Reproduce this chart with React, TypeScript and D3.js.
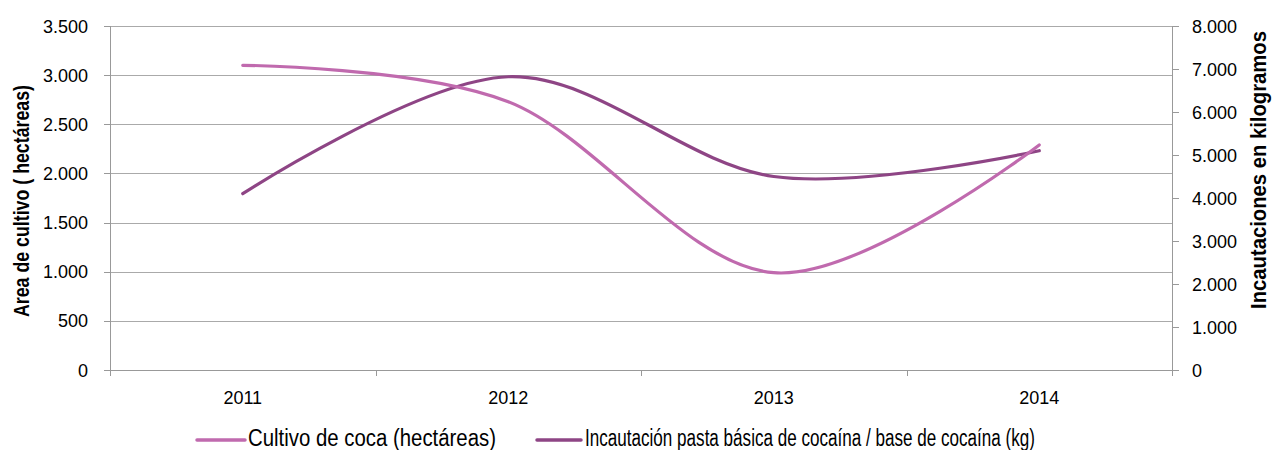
import React from "react";
import * as d3 from "d3";

const years = ["2011", "2012", "2013", "2014"];
const cultivoCoca = [3100, 2730, 990, 2290];
const incautacion = [4100, 6820, 4500, 5100];
const leftTicks = [0, 500, 1000, 1500, 2000, 2500, 3000, 3500];
const rightTicks = [0, 1000, 2000, 3000, 4000, 5000, 6000, 7000, 8000];
const seriesNames = [
  "Cultivo de coca (hectáreas)",
  "Incautación pasta básica de cocaína / base de cocaína (kg)",
];
const colors = ["#c06aae", "#8e4585"];

const W = 1273;
const H = 450;
const left = 110;
const right = 1172;
const top = 26;
const bottom = 370;

const fmt = (v: number) => d3.format(",")(v).replace(/,/g, ".");

export default function App() {
  const x = d3.scaleBand<string>().domain(years).range([left, right]);
  const yL = d3.scaleLinear().domain([0, 3500]).range([bottom, top]);
  const yR = d3.scaleLinear().domain([0, 8000]).range([bottom, top]);
  const cx = (d: string) => (x(d) as number) + x.bandwidth() / 2;

  const lineL = d3
    .line<number>()
    .x((_, i) => cx(years[i]))
    .y((d) => yL(d))
    .curve(d3.curveCardinal.tension(0));
  const lineR = d3
    .line<number>()
    .x((_, i) => cx(years[i]))
    .y((d) => yR(d))
    .curve(d3.curveCardinal.tension(0));

  const boundaries = [...years.map((y) => x(y) as number), right];
  const sans = "'Liberation Sans', Arial, sans-serif";

  return (
    <svg
      width={W}
      height={H}
      style={{ position: "absolute", left: 0, top: 0, background: "#fff" }}
    >
      {/* gridlines */}
      {leftTicks.slice(1).map((t) => (
        <line
          key={"g" + t}
          x1={left}
          x2={right}
          y1={Math.round(yL(t)) + 0.5}
          y2={Math.round(yL(t)) + 0.5}
          stroke="#aaaaaa"
          strokeWidth={1}
        />
      ))}
      {/* axes */}
      <line x1={left + 0.5} x2={left + 0.5} y1={top} y2={bottom} stroke="#999" />
      <line x1={right + 0.5} x2={right + 0.5} y1={top} y2={bottom} stroke="#999" />
      <line x1={left} x2={right + 1} y1={bottom + 0.5} y2={bottom + 0.5} stroke="#999" />
      {leftTicks.map((t) => (
        <g key={"l" + t}>
          <line
            x1={left - 6}
            x2={left}
            y1={Math.round(yL(t)) + 0.5}
            y2={Math.round(yL(t)) + 0.5}
            stroke="#999"
          />
          <text
            x={88}
            y={yL(t) + 6.5}
            textAnchor="end"
            fontFamily={sans}
            fontSize={18}
            fill="#000"
          >
            {fmt(t)}
          </text>
        </g>
      ))}
      {rightTicks.map((t) => (
        <g key={"r" + t}>
          <line
            x1={right}
            x2={right + 7}
            y1={Math.round(yR(t)) + 0.5}
            y2={Math.round(yR(t)) + 0.5}
            stroke="#999"
          />
          <text
            x={1192}
            y={yR(t) + 6.5}
            textAnchor="start"
            fontFamily={sans}
            fontSize={18}
            fill="#000"
          >
            {fmt(t)}
          </text>
        </g>
      ))}
      {boundaries.map((b, i) => (
        <line
          key={"b" + i}
          x1={Math.round(b) + 0.5}
          x2={Math.round(b) + 0.5}
          y1={bottom}
          y2={bottom + 6}
          stroke="#999"
        />
      ))}
      {years.map((y) => (
        <text
          key={y}
          x={cx(y)}
          y={404}
          textAnchor="middle"
          fontFamily={sans}
          fontSize={18}
          fill="#000"
        >
          {y}
        </text>
      ))}
      {/* axis titles */}
      <text
        transform={`translate(29,${(85 + 317) / 2}) rotate(-90)`}
        textAnchor="middle"
        fontFamily={sans}
        fontWeight="bold"
        fontSize={22}
        textLength={232}
        lengthAdjust="spacingAndGlyphs"
      >
        Area de cultivo ( hectáreas)
      </text>
      <text
        transform={`translate(1266,${(30 + 310) / 2}) rotate(-90)`}
        textAnchor="middle"
        fontFamily={sans}
        fontWeight="bold"
        fontSize={22}
        textLength={278}
        lengthAdjust="spacingAndGlyphs"
      >
        Incautaciones en kilogramos
      </text>
      {/* series */}
      <path d={lineR(incautacion) || ""} fill="none" stroke={colors[1]} strokeWidth={3.2} strokeLinecap="round" />
      <path d={lineL(cultivoCoca) || ""} fill="none" stroke={colors[0]} strokeWidth={3.2} strokeLinecap="round" />
      {/* legend */}
      <line x1={197} x2={245} y1={440} y2={440} stroke={colors[0]} strokeWidth={3.5} strokeLinecap="round" />
      <text x={248} y={446} fontFamily={sans} fontSize={23} textLength={248} lengthAdjust="spacingAndGlyphs">
        {seriesNames[0]}
      </text>
      <line x1={537} x2={581} y1={440} y2={440} stroke={colors[1]} strokeWidth={3.5} strokeLinecap="round" />
      <text x={585} y={446} fontFamily={sans} fontSize={23} textLength={450} lengthAdjust="spacingAndGlyphs">
        {seriesNames[1]}
      </text>
    </svg>
  );
}
